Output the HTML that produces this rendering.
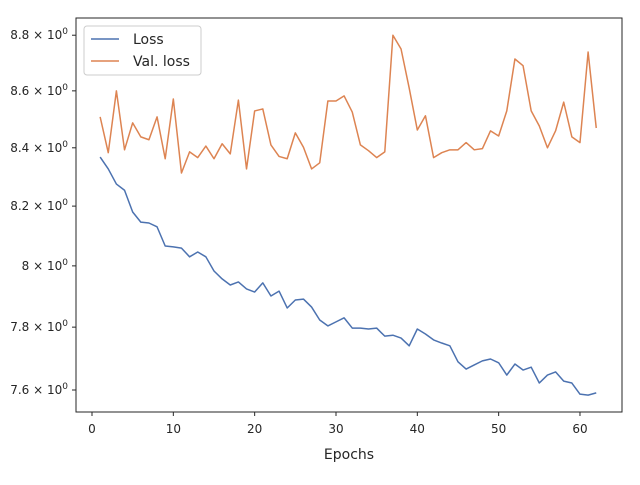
<!DOCTYPE html>
<html><head><meta charset="utf-8"><style>
body{margin:0;background:#fff;}
svg text{font-family:"DejaVu Sans","Liberation Sans",sans-serif;fill:#262626;}
</style></head><body>
<svg id="chart" width="640" height="480" viewBox="0 0 640 480" xmlns="http://www.w3.org/2000/svg">
<rect x="0" y="0" width="640" height="480" fill="#fff"/>
<g id="plot"></g>
<rect x="76" y="18" width="546" height="394" fill="none" stroke="#262626" stroke-width="1"/>
<text x="349" y="459" font-size="14" text-anchor="middle">Epochs</text>
<g>
<rect x="84" y="26" width="117" height="49" rx="3" fill="#fff" stroke="#ccc"/>
<line x1="91" y1="39" x2="119" y2="39" stroke="#4c72b0" stroke-width="1.5"/>
<text x="133" y="44" font-size="14">Loss</text>
<line x1="91" y1="61" x2="119" y2="61" stroke="#dd8452" stroke-width="1.5"/>
<text x="133" y="66" font-size="14">Val. loss</text>
</g>
</svg>
<script>
const epochs = Array.from({length:62},(_, i)=>i+1);
const lossValues = [8.368,8.327,8.275,8.254,8.180,8.146,8.143,8.130,8.066,8.063,8.059,8.030,8.046,8.030,7.983,7.957,7.937,7.947,7.924,7.914,7.944,7.901,7.917,7.862,7.888,7.891,7.865,7.823,7.804,7.817,7.830,7.797,7.797,7.794,7.797,7.771,7.774,7.765,7.740,7.794,7.778,7.759,7.749,7.740,7.689,7.666,7.679,7.692,7.698,7.686,7.647,7.682,7.663,7.672,7.622,7.647,7.657,7.628,7.622,7.587,7.584,7.591];
const valLossValues = [8.508,8.383,8.600,8.393,8.487,8.438,8.428,8.508,8.362,8.571,8.313,8.386,8.366,8.406,8.362,8.414,8.379,8.567,8.327,8.529,8.536,8.410,8.370,8.362,8.452,8.402,8.327,8.348,8.564,8.564,8.582,8.525,8.410,8.390,8.366,8.386,8.800,8.750,8.610,8.462,8.512,8.366,8.383,8.393,8.393,8.418,8.393,8.397,8.459,8.441,8.529,8.714,8.690,8.529,8.476,8.400,8.459,8.560,8.438,8.418,8.739,8.469];
const xTicks = [0,10,20,30,40,50,60];
const yTicks = [7.6,7.8,8,8.2,8.4,8.6,8.8];
const yTickLabels = ["7.6","7.8","8","8.2","8.4","8.6","8.8"];

const NS="http://www.w3.org/2000/svg";
const g=document.getElementById('plot');
const xs=v=>92+(v)*8.133;
const ys=v=>390-Math.log(v/7.6)*2420;
function mk(t,a){const e=document.createElementNS(NS,t);for(const k in a)e.setAttribute(k,a[k]);g.appendChild(e);return e;}
xTicks.forEach(t=>{
  const l=mk('line',{x1:xs(t),x2:xs(t),y1:412,y2:416,stroke:'#262626'});
  
  
  const tx=mk('text',{x:xs(t),y:433,'font-size':12,'text-anchor':'middle'});
  tx.textContent=t;
  
  
});
yTicks.forEach((t,i)=>{
  const l=mk('line',{x1:72,x2:76,y1:ys(t),y2:ys(t),stroke:'#262626'});
  
  
  const tx=mk('text',{x:68,y:ys(t)+4,'font-size':12,'text-anchor':'end'});
  tx.innerHTML=yTickLabels[i]+' × 10<tspan dy="-5" font-size="9">0</tspan>';
  
  
});
function line(vals,color,name){
  const p=mk('polyline',{points:vals.map((v,i)=>xs(epochs[i])+','+ys(v)).join(' '),fill:'none',stroke:color,'stroke-width':1.5,'stroke-linejoin':'round'});
  
  
}
line(lossValues,'#4c72b0','loss-line');
line(valLossValues,'#dd8452','val-loss-line');
</script>
</body></html>
